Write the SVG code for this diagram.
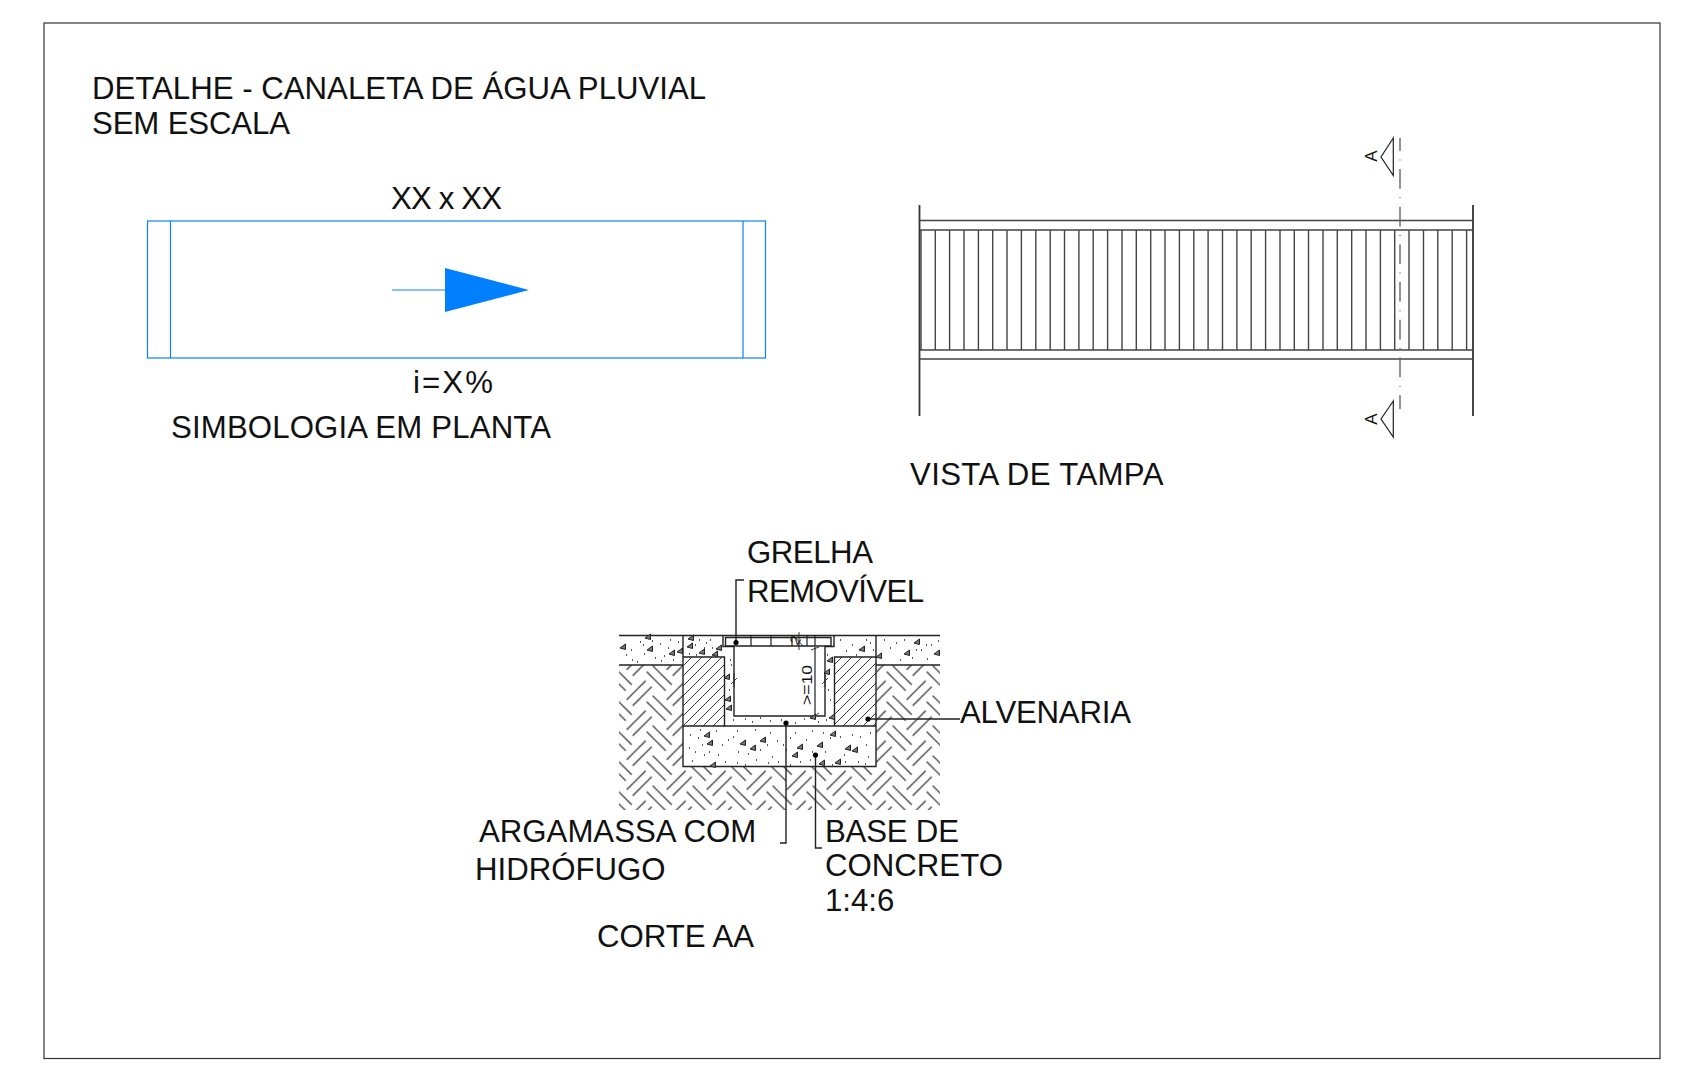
<svg xmlns="http://www.w3.org/2000/svg" width="1706" height="1082" viewBox="0 0 1706 1082">
<style>
text{font-family:"Liberation Sans",Arial,sans-serif;font-size:31.2px;fill:#111}
.k{fill:none;stroke:#222;stroke-width:1.2}
.g{fill:none;stroke:#444;stroke-width:1.4}
.b{fill:none;stroke:#0a80ff;stroke-width:1.2}
.d{fill:none;stroke:#222;stroke-width:1.4}
.t{fill:none;stroke:#222;stroke-width:.9}
.dot{fill:#000}
</style>
<defs>
<pattern id="soil" width="40" height="30" patternUnits="userSpaceOnUse" patternTransform="translate(896.7 690.7)">
<path d="M-4 5l19 19M36 5l19 19M-10 11l19 19M30 11l19 19M-10 -19l19 19M30 -19l19 19M29 20l-19 19M29 -10l-19 19M35 26l-19 19M35 -4l-19 19" stroke="#222" stroke-width="1.1" fill="none"/>
</pattern>
<pattern id="brick" width="10" height="10" patternUnits="userSpaceOnUse" patternTransform="translate(682 657)">
<path d="M-1 11L11 -1M-2 2L2 -2M8 12L12 8" stroke="#222" stroke-width=".9" fill="none"/>
</pattern>
<path id="tri" d="M-3 1 L2.5 -3 L2.5 2.5 Z" fill="#777" stroke="#222" stroke-width="1"/>
</defs>
<rect id="frame" x="44" y="23" width="1616" height="1035.5" fill="none" stroke="#333" stroke-width="1.2"/>
<g id="title"><text x="92" y="98.5">DETALHE - CANALETA DE ÁGUA PLUVIAL</text><text x="92" y="134" textLength="198">SEM ESCALA</text></g>
<g id="symbol-plan">
<rect class="b" x="147.5" y="221" width="618" height="137"/>
<path class="b" d="M170.5 221V358M743 221V358M392 290H445"/>
<path d="M445 268L529 290L445 312Z" fill="#0080ff"/>
<text x="391" y="209" textLength="111">XX x XX</text>
<text x="413" y="393" textLength="80">i=X%</text>
<text x="171" y="438" textLength="380">SIMBOLOGIA EM PLANTA</text>
</g>
<g id="top-view">
<path d="M919.5 205V416M1473 205V416" fill="none" stroke="#333" stroke-width="1.8"/>
<path class="g" d="M919.5 220.5H1473M919.5 230H1473M919.5 350H1473M919.5 359H1473"/>
<path class="g" d="M921 230V350M935.3 230V350M949.6 230V350M964 230V350M978.4 230V350M992.7 230V350M1007 230V350M1021.4 230V350M1035.8 230V350M1050.2 230V350M1064.5 230V350M1078.9 230V350M1093.2 230V350M1107.6 230V350M1122 230V350M1136.3 230V350M1150.7 230V350M1165 230V350M1179.4 230V350M1193.8 230V350M1208.1 230V350M1222.5 230V350M1236.9 230V350M1251.2 230V350M1265.6 230V350M1280 230V350M1294.3 230V350M1308.5 230V350M1323 230V350M1337.3 230V350M1351.7 230V350M1366 230V350M1380.4 230V350M1394.7 230V350M1409 230V350M1423.5 230V350M1437.8 230V350M1452.2 230V350M1466.6 230V350"/>
<path d="M1400 138V409" fill="none" stroke="#666" stroke-width="1.4" stroke-dasharray="19.7 8.5 1 8.5" stroke-dashoffset="6.7"/>
<path class="k" d="M1393.3 138L1381 157L1393.3 175.5ZM1393.3 401L1381 419L1393.3 437Z"/>
<text transform="translate(1377 156) rotate(-90)" text-anchor="middle" style="font-size:17px">A</text>
<text transform="translate(1377 419) rotate(-90)" text-anchor="middle" style="font-size:17px">A</text>
<text x="910" y="485" textLength="253.5">VISTA DE TAMPA</text>
</g>
<g id="section">
<path fill="url(#soil)" d="M619 665H683V766.5H876V665H940V810H619Z"/>
<path fill="url(#brick)" d="M683 657H724.5V726H683ZM834.5 657H876V726H834.5Z"/>
<path class="d" d="M619 635.5H723M834 635.5H940M619 665H683M876 665H940M683 635.5V766.5H876V635.5M683 726H876M683 657H724.5V726M834.5 726V657H876"/>
<path class="d" d="M723 635.5V646.5H734V716H825V646.5H834V635.5"/>
<path class="d" d="M723 635.5H834M725.5 637.5H831V646H725.5Z"/>
<path class="k" d="M751 636V646M771 636V646M792 636V646M807 636V646M815 636V646M815 647V716"/>
<path class="t" d="M794 636L803 646M799 632V650M811 650L819 647M734 673V687M731 684L737 678M825 673V687M822 684L828 678M811 719L819 713"/>
<g id="stipple">
<use href="#tri" x="623" y="647"/><use href="#tri" x="650" y="649"/><use href="#tri" x="672" y="653"/><use href="#tri" x="648" y="637"/><use href="#tri" x="680" y="651"/><use href="#tri" x="691" y="638"/><use href="#tri" x="702" y="652"/><use href="#tri" x="690" y="646"/><use href="#tri" x="715" y="654"/><use href="#tri" x="719" y="648"/><use href="#tri" x="862" y="649"/><use href="#tri" x="879" y="656"/><use href="#tri" x="917" y="642"/><use href="#tri" x="937" y="653"/><use href="#tri" x="907" y="653"/><use href="#tri" x="830" y="660"/><use href="#tri" x="827" y="672"/><use href="#tri" x="727" y="677"/><use href="#tri" x="728" y="699"/><use href="#tri" x="729" y="708"/><use href="#tri" x="832" y="717"/><use href="#tri" x="813" y="717"/>
<use href="#tri" x="710" y="743"/><use href="#tri" x="753" y="748"/><use href="#tri" x="743" y="743"/><use href="#tri" x="795" y="755"/><use href="#tri" x="848" y="748"/><use href="#tri" x="838" y="762"/><use href="#tri" x="763" y="740"/><use href="#tri" x="707" y="735"/><use href="#tri" x="800" y="747"/><use href="#tri" x="822" y="763"/><use href="#tri" x="820" y="745"/><use href="#tri" x="713" y="765"/><use href="#tri" x="855" y="750"/><use href="#tri" x="833" y="734"/>
<path d="M626 655h1M632 660h1M640 642h1M643 645h1M644 654h1M655 658h1M660 644h1M664 656h1M670 640h1M673 660h1M678 642h1M631 650h1M637 662h1M652 641h1M661 661h1M668 648h1M695 645h1M699 640h1M706 643h1M710 640h1M696 655h1M712 648h1M704 648h1M689 654h1M840 640h1M846 651h1M852 645h1M856 655h1M870 643h1M873 650h1M866 640h1M884 640h1M890 648h1M896 643h1M900 660h1M912 658h1M921 650h1M927 659h1M931 645h1M938 641h1M904 640h1M916 650h1M926 645h1M733 720h1M745 719h1M752 722h1M760 718h1M770 721h1M781 720h1M795 723h1M804 719h1M818 722h1M826 720h1M730 660h1M729 690h1M731 665h1M828 690h1M830 700h1M827 655h1M690 735h1M698 738h1M702 745h1M689 748h1M695 752h1M709 752h1M718 755h1M722 745h1M728 740h1M733 737h1M738 752h1M748 754h1M760 750h1M767 745h1M772 757h1M777 741h1M783 745h1M786 750h1M790 738h1M806 740h1M812 752h1M825 752h1M830 738h1M840 737h1M844 755h1M852 735h1M860 737h1M866 745h1M868 757h1M870 733h1M692 761h1M704 755h1M725 762h1M737 763h1M745 765h1M756 760h1M768 763h1M778 762h1M790 765h1M800 762h1M810 760h1M832 765h1M845 762h1M858 762h1M865 764h1M700 730h1M716 731h1M737 731h1M755 730h1M770 733h1M795 733h1M812 731h1M823 733h1" stroke="#222" stroke-width="1.3" fill="none"/>
</g>
<path class="d" d="M744 580H736V642M868 719H960M780 843H786V723M815.5 755V848H822"/>
<circle class="dot" cx="736" cy="642.5" r="2.6"/><circle class="dot" cx="868" cy="719" r="2.6"/><circle class="dot" cx="786" cy="723" r="2.6"/><circle class="dot" cx="815.5" cy="755" r="2.6"/>
<text transform="translate(812 705) rotate(-90)" textLength="40" lengthAdjust="spacingAndGlyphs" style="font-size:14px">&gt;=10</text>
<text transform="translate(798 646) rotate(-65)" style="font-size:14px">2</text>
<text x="747" y="563" textLength="126">GRELHA</text><text x="747" y="601.5" textLength="177">REMOVÍVEL</text>
<text x="960" y="723" textLength="171">ALVENARIA</text>
<text x="479" y="842">ARGAMASSA COM</text><text x="475" y="880">HIDRÓFUGO</text>
<text x="825" y="842" textLength="134">BASE DE</text><text x="825" y="876">CONCRETO</text><text x="825" y="911">1:4:6</text>
<text x="597" y="947">CORTE AA</text>
</g>
</svg>
